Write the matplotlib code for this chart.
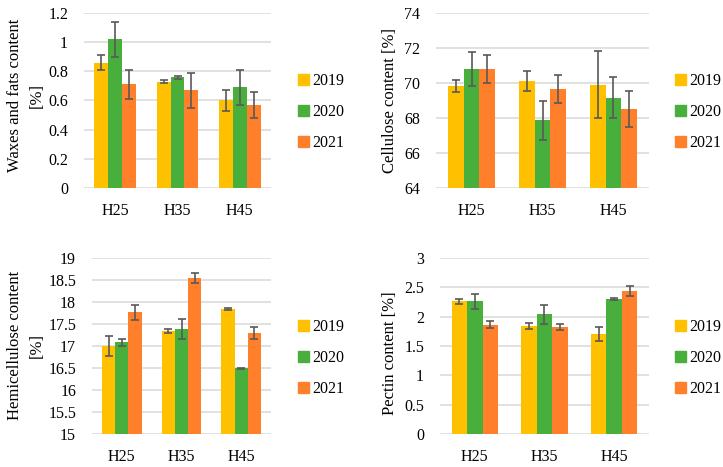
import numpy as np
import matplotlib
matplotlib.use("Agg")
import matplotlib.pyplot as plt
from matplotlib.patches import Patch

plt.rcParams['font.family'] = ['Liberation Serif', 'DejaVu Serif']

# data
samples = ["H25", "H35", "H45"]
years = ["2019", "2020", "2021"]
colors = ["#FFC000", "#48AE3C", "#FF7F2A"]

waxes = [[0.86, 0.73, 0.60], [1.02, 0.76, 0.69], [0.71, 0.67, 0.57]]
waxes_err = [[0.05, 0.01, 0.07], [0.12, 0.01, 0.12], [0.10, 0.12, 0.09]]

cellulose = [[69.85, 70.10, 69.90], [70.82, 67.87, 69.15], [70.82, 69.65, 68.50]]
cellulose_err = [[0.34, 0.57, 1.90], [0.97, 1.13, 1.17], [0.80, 0.80, 1.03]]

hemi = [[17.00, 17.34, 17.84], [17.08, 17.39, 16.49], [17.77, 18.55, 17.30]]
hemi_err = [[0.23, 0.04, 0.02], [0.07, 0.22, 0.015], [0.17, 0.11, 0.14]]

pectin = [[2.26, 1.84, 1.70], [2.26, 2.04, 2.30], [1.86, 1.82, 2.44]]
pectin_err = [[0.045, 0.05, 0.12], [0.13, 0.165, 0.017], [0.06, 0.05, 0.08]]

W, H = 723, 467
fig = plt.figure(figsize=(W / 100, H / 100), dpi=100)


def px_axes(x0, x1, y0, y1):
    return fig.add_axes([x0 / W, 1 - y1 / H, (x1 - x0) / W, (y1 - y0) / H])


def draw(ax, vals, errs, ylim, yticks, ticklabels):
    x = np.arange(len(samples))
    w = 2 / 9
    for i in range(len(years)):
        ax.bar(x + (i - 1) * w, vals[i], w, color=colors[i], zorder=2)
        ax.errorbar(x + (i - 1) * w, vals[i], yerr=errs[i], fmt='none',
                    ecolor="#595959", elinewidth=1.2, capsize=3.2,
                    capthick=1.2, zorder=3)
    ax.set_xlim(-0.5, 2.5)
    ax.set_ylim(*ylim)
    ax.set_yticks(yticks)
    ax.set_yticklabels(ticklabels)
    ax.set_xticks(x)
    ax.set_xticklabels(samples)
    ax.grid(axis='y', color="#d9d9d9", linewidth=1.1, zorder=0)
    ax.set_axisbelow(True)
    for s in ax.spines.values():
        s.set_visible(False)
    ax.tick_params(axis='y', length=0, pad=11.5, labelsize=11.5)
    ax.tick_params(axis='x', length=0, pad=10.5, labelsize=11.5)


ax1 = px_axes(84, 271, 13, 188)
draw(ax1, waxes, waxes_err, (0, 1.2), np.arange(0, 1.21, 0.2),
     ["0", "0.2", "0.4", "0.6", "0.8", "1", "1.2"])
ax2 = px_axes(436, 649, 13, 188)
draw(ax2, cellulose, cellulose_err, (64, 74), range(64, 75, 2),
     [str(v) for v in range(64, 75, 2)])
ax3 = px_axes(92, 271, 258, 434)
draw(ax3, hemi, hemi_err, (15, 19), np.arange(15, 19.01, 0.5),
     ["15", "15.5", "16", "16.5", "17", "17.5", "18", "18.5", "19"])
ax4 = px_axes(440, 649, 258, 434)
draw(ax4, pectin, pectin_err, (0, 3), np.arange(0, 3.01, 0.5),
     ["0", "0.5", "1", "1.5", "2", "2.5", "3"])

# y labels
lab = dict(rotation=90, ha='center', va='center', fontsize=12,
           linespacing=1.45)
fig.text(26 / W, 1 - 95 / H, "Waxes and fats content\n[%]", **lab)
fig.text(390 / W, 1 - 100 / H, "Cellulose content [%]", **lab)
fig.text(26 / W, 1 - 345 / H, "Hemicellulose content\n[%]", **lab)
fig.text(390 / W, 1 - 353 / H, "Pectin content [%]", **lab)

# legends
handles = [Patch(color=c, label=y) for c, y in zip(colors, years)]
for lx, ly in [(298, 112), (675, 112), (298, 358), (675, 358)]:
    fig.legend(handles=handles, loc='center left',
               bbox_to_anchor=(lx / W, 1 - ly / H), frameon=False,
               fontsize=11.5, handlelength=0.7, handleheight=0.7,
               handletextpad=0.2, labelspacing=0.95, borderpad=0,
               borderaxespad=0)

fig.savefig("out.png", dpi=100)
